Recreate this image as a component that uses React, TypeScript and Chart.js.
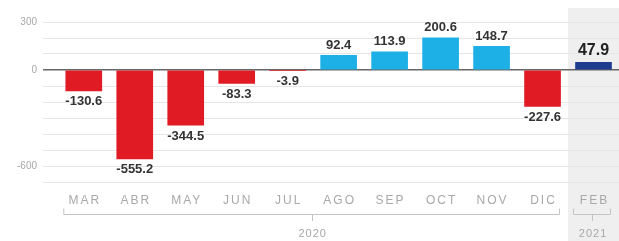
import React, { useEffect, useRef } from 'react';
import { Chart, registerables } from 'chart.js';

Chart.register(...registerables);

const months = ['MAR', 'ABR', 'MAY', 'JUN', 'JUL', 'AGO', 'SEP', 'OCT', 'NOV', 'DIC', 'FEB'];
const values = [-130.6, -555.2, -344.5, -83.3, -3.9, 92.4, 113.9, 200.6, 148.7, -227.6, 47.9];
const valueLabels = ['-130.6', '-555.2', '-344.5', '-83.3', '-3.9', '92.4', '113.9', '200.6', '148.7', '-227.6', '47.9'];
const years = ['2020', '2021'];
const yearFrom = [0, 10];
const yearTo = [9, 10];
const yTickLabels = [300, 0, -600];

const RED = '#e01b24';
const CYAN = '#1cb0e6';
const NAVY = '#1f3d8f';
const FONT = "'Liberation Sans', Arial, sans-serif";

const decor = {
  id: 'decor',
  beforeDraw(chart: any) {
    const { ctx } = chart;
    const x = chart.scales.x;
    const left = x.getPixelForValue(9.5);
    ctx.save();
    ctx.fillStyle = '#efefef';
    ctx.fillRect(left, 8, chart.width - left, chart.height - 8);
    ctx.restore();
  },
  afterDatasetsDraw(chart: any) {
    const { ctx } = chart;
    const x = chart.scales.x;
    const meta = chart.getDatasetMeta(0);
    ctx.save();
    ctx.textAlign = 'center';
    ctx.textBaseline = 'middle';
    meta.data.forEach((bar: any, i: number) => {
      const v = values[i];
      const last = i === values.length - 1;
      ctx.fillStyle = last ? '#222' : '#333';
      ctx.font = last ? `bold 16px ${FONT}` : `bold 13px ${FONT}`;
      if (v >= 0) {
        ctx.fillText(valueLabels[i], bar.x, bar.y - (last ? 12 : 10));
      } else {
        ctx.fillText(valueLabels[i], bar.x, bar.y + 11);
      }
    });
    // month labels
    ctx.fillStyle = '#a8a8a8';
    ctx.font = `12px ${FONT}`;
    (ctx as any).letterSpacing = '2px';
    months.forEach((m, i) => {
      ctx.fillText(m, x.getPixelForValue(i) + 1, 201);
    });
    // brackets and years
    (ctx as any).letterSpacing = '1px';
    ctx.font = `11px ${FONT}`;
    ctx.strokeStyle = '#c4c4c4';
    ctx.lineWidth = 1;
    years.forEach((y, k) => {
      const a = x.getPixelForValue(yearFrom[k]) - 20;
      const b = x.getPixelForValue(yearTo[k]) + 17;
      const c = (a + b) / 2;
      ctx.beginPath();
      ctx.moveTo(a, 208.5);
      ctx.lineTo(a, 214.5);
      ctx.lineTo(b, 214.5);
      ctx.lineTo(b, 208.5);
      ctx.moveTo(Math.round(c) + 0.5, 214.5);
      ctx.lineTo(Math.round(c) + 0.5, 221);
      ctx.stroke();
      ctx.fillText(y, c + 1, 234);
    });
    ctx.restore();
  },
};

export default function App() {
  const ref = useRef<HTMLCanvasElement>(null);
  useEffect(() => {
    document.body.style.margin = '0';
    const canvas = ref.current!;
    const chart = new Chart(canvas, {
      type: 'bar',
      data: {
        datasets: [
          {
            data: values.map((v, i) => ({ x: i, y: v })),
            backgroundColor: values.map((v, i) => (i === values.length - 1 ? NAVY : v < 0 ? RED : CYAN)),
            barThickness: 36,
            borderWidth: 0,
          } as any,
        ],
      },
      options: {
        responsive: false,
        animation: false,
        layout: { padding: { top: 22, bottom: 59, left: 0, right: 0 } },
        plugins: { legend: { display: false }, tooltip: { enabled: false } },
        scales: {
          x: { type: 'linear', min: -0.8, max: 10.5, offset: false, display: false },
          y: {
            min: -700,
            max: 300,
            afterFit: (s: any) => {
              s.width = 43;
            },
            ticks: {
              stepSize: 100,
              autoSkip: false,
              padding: 6,
              color: '#a8a8a8',
              font: { size: 10, family: FONT },
              callback: (v: any) => (yTickLabels.includes(Number(v)) ? String(v) : ''),
            },
            grid: {
              drawTicks: false,
              color: (c: any) => (c.tick && c.tick.value === 0 ? '#666' : '#e6e6e6'),
              lineWidth: (c: any) => (c.tick && c.tick.value === 0 ? 1.5 : 1),
            },
            border: { display: false },
          },
        },
      },
      plugins: [decor],
    } as any);
    return () => chart.destroy();
  }, []);
  return (
    <div style={{ width: 619, height: 241 }}>
      <canvas ref={ref} width={619} height={241} style={{ display: 'block' }} />
    </div>
  );
}
